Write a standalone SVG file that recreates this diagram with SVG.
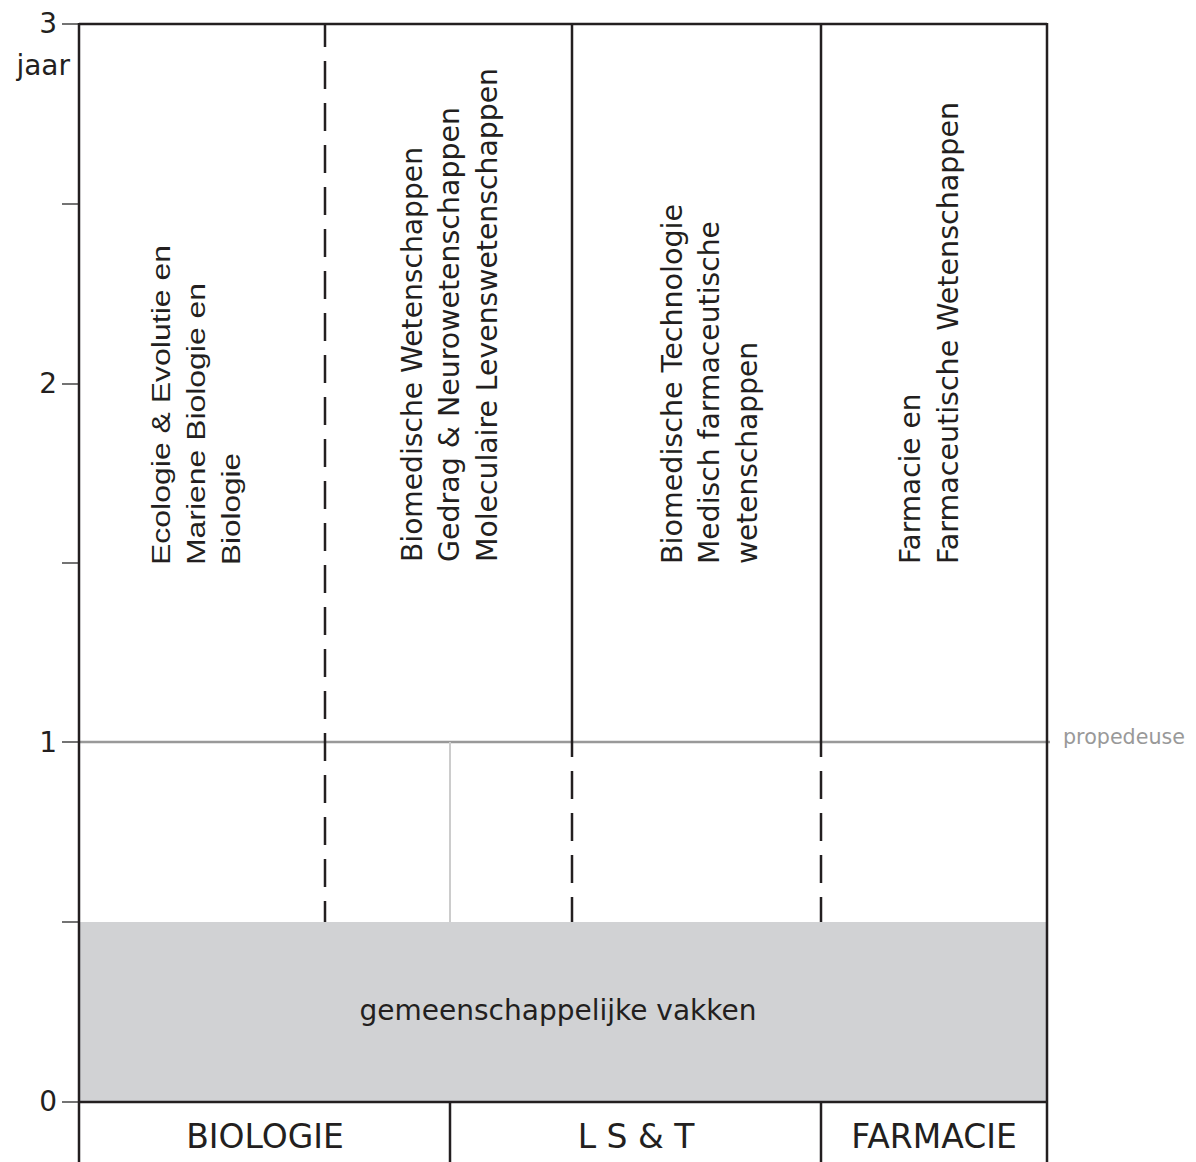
<svg xmlns="http://www.w3.org/2000/svg" width="1196" height="1162" viewBox="0 0 1196 1162">
<style>
.ax{stroke:#231f20;stroke-width:2.5;fill:none}
.tk{stroke:#444;stroke-width:1.5}
.dash{stroke:#231f20;stroke-width:2.5;stroke-dasharray:28 14}
.num{font-family:"DejaVu Sans",sans-serif;font-size:28px;fill:#231f20;text-anchor:end}
.lbl{font-family:"DejaVu Sans",sans-serif;font-size:28px;fill:#231f20}
.lbla{font-family:"Liberation Sans",Arial,sans-serif;font-size:26px;fill:#231f20}
.big{font-family:"DejaVu Sans",sans-serif;font-size:33px;fill:#231f20;text-anchor:middle}
</style>
<rect id="common" x="79" y="922" width="968" height="180" fill="#d1d2d4"/>
<g id="axis">
<line class="tk" x1="62" y1="24" x2="79" y2="24"/>
<line class="tk" x1="62" y1="204" x2="79" y2="204"/>
<line class="tk" x1="62" y1="384" x2="79" y2="384"/>
<line class="tk" x1="62" y1="563" x2="79" y2="563"/>
<line class="tk" x1="62" y1="742" x2="79" y2="742"/>
<line class="tk" x1="62" y1="922" x2="79" y2="922"/>
<line class="tk" x1="62" y1="1102" x2="79" y2="1102"/>
<text class="num" x="57" y="33">3</text>
<text class="num" x="70" y="75">jaar</text>
<text class="num" x="57" y="393">2</text>
<text class="num" x="57" y="752">1</text>
<text class="num" x="57" y="1111">0</text>
</g>
<g id="connectors">
<line x1="79" y1="742" x2="1050" y2="742" stroke="#999" stroke-width="2.5"/>
<line x1="450" y1="742" x2="450" y2="922" stroke="#ccc" stroke-width="2"/>
<line class="dash" x1="325" y1="24" x2="325" y2="922" stroke-dashoffset="5"/>
<line class="ax" x1="572" y1="24" x2="572" y2="742"/>
<line class="dash" x1="572" y1="742" x2="572" y2="922" stroke-dashoffset="13"/>
<line class="ax" x1="821" y1="24" x2="821" y2="742"/>
<line class="dash" x1="821" y1="742" x2="821" y2="922" stroke-dashoffset="13"/>
<line class="ax" x1="79" y1="24" x2="1047" y2="24"/>
<line class="ax" x1="79" y1="23" x2="79" y2="1162"/>
<line class="ax" x1="1047" y1="23" x2="1047" y2="1162"/>
<line class="ax" x1="79" y1="1102" x2="1047" y2="1102"/>
<line class="ax" x1="450" y1="1102" x2="450" y2="1162"/>
<line class="ax" x1="821" y1="1102" x2="821" y2="1162"/>
</g>
<text id="propedeuse" x="1063" y="744" font-family="DejaVu Sans,sans-serif" font-size="21" fill="#999" textLength="122" lengthAdjust="spacingAndGlyphs">propedeuse</text>
<g id="col-biologie">
<text class="lbla" transform="translate(170,565) rotate(-90)" textLength="320" lengthAdjust="spacingAndGlyphs">Ecologie &amp; Evolutie en</text>
<text class="lbla" transform="translate(205,565) rotate(-90)" textLength="282" lengthAdjust="spacingAndGlyphs">Mariene Biologie en</text>
<text class="lbla" transform="translate(240,565) rotate(-90)" textLength="112" lengthAdjust="spacingAndGlyphs">Biologie</text>
</g>
<g id="col-biomedisch">
<text class="lbl" transform="translate(422,562) rotate(-90)" textLength="415" lengthAdjust="spacingAndGlyphs">Biomedische Wetenschappen</text>
<text class="lbl" transform="translate(459,562) rotate(-90)" textLength="455" lengthAdjust="spacingAndGlyphs">Gedrag &amp; Neurowetenschappen</text>
<text class="lbl" transform="translate(497,562) rotate(-90)" textLength="494" lengthAdjust="spacingAndGlyphs">Moleculaire Levenswetenschappen</text>
</g>
<g id="col-lst">
<text class="lbl" transform="translate(682,564) rotate(-90)" textLength="360" lengthAdjust="spacingAndGlyphs">Biomedische Technologie</text>
<text class="lbl" transform="translate(719,564) rotate(-90)" textLength="343" lengthAdjust="spacingAndGlyphs">Medisch farmaceutische</text>
<text class="lbl" transform="translate(757,564) rotate(-90)" textLength="222" lengthAdjust="spacingAndGlyphs">wetenschappen</text>
</g>
<g id="col-farmacie">
<text class="lbl" transform="translate(920,564) rotate(-90)">Farmacie en</text>
<text class="lbl" transform="translate(958,564) rotate(-90)" textLength="462" lengthAdjust="spacingAndGlyphs">Farmaceutische Wetenschappen</text>
</g>
<text id="common-label" class="lbl" x="558" y="1020" text-anchor="middle">gemeenschappelijke vakken</text>
<g id="bottom-labels">
<text class="big" x="265" y="1148">BIOLOGIE</text>
<text class="big" x="636" y="1148">L S &amp; T</text>
<text class="big" x="934" y="1148">FARMACIE</text>
</g>
</svg>
